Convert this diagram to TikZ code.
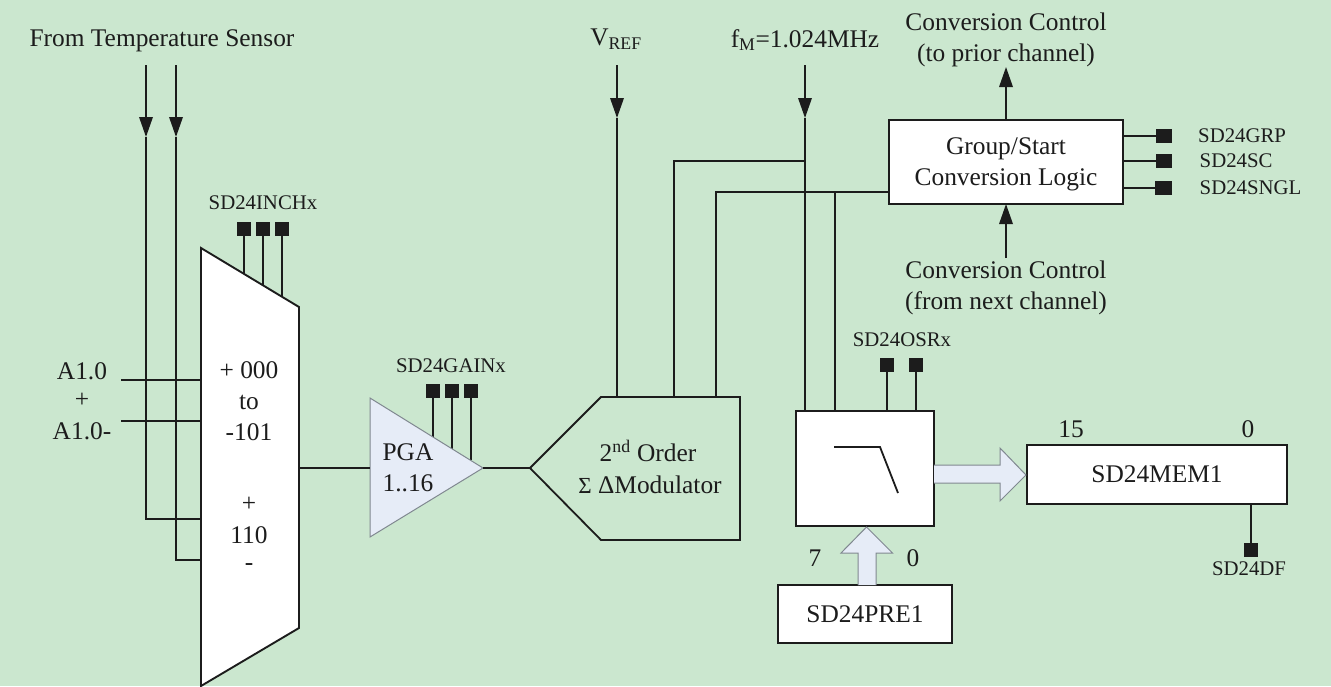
\documentclass[tikz,border=0pt]{standalone}
\usepackage{fontspec}
\setmainfont{Liberation Serif}
\usetikzlibrary{arrows.meta}
\definecolor{bg}{HTML}{CBE7CF}
\definecolor{ink}{HTML}{1C1C1C}
\definecolor{pale}{HTML}{E6ECF7}
\definecolor{edge}{HTML}{808890}
\tikzset{
  wire/.style={draw=ink,line width=1.8pt},
  arr/.style={wire,-{Triangle[length=20pt,width=13.5pt]}},
  pin/.style={draw=none,fill=ink,minimum width=14pt,minimum height=14pt,inner sep=0pt,outer sep=0pt},
  boxw/.style={draw=ink,line width=1.9pt,fill=white,inner sep=0pt,outer sep=0pt},
  big/.style={font=\fontsize{25.4}{30}\selectfont,align=center,inner sep=0pt,text=ink},
  small/.style={font=\fontsize{20.8}{25}\selectfont,inner sep=0pt,text=ink},
  wide/.style={draw=edge,line width=1pt,fill=pale}
}
\begin{document}
\begin{tikzpicture}[x=1pt,y=-1pt]
\useasboundingbox (0,0) rectangle (1331,686);
\fill[bg] (0,0) rectangle (1331,686);
% multiplexer
\coordinate (m1) at (201,248);
\coordinate (m2) at (299,307);
\coordinate (m3) at (299,628);
\coordinate (m4) at (201,686);
% PGA
\coordinate (p1) at (370,398);
\coordinate (p2) at (483,468);
\coordinate (p3) at (370,537);
% modulator
\coordinate (d1) at (530,468);
\coordinate (d2) at (601,397);
\coordinate (d3) at (740,397);
\coordinate (d4) at (740,540);
\coordinate (d5) at (601,540);
% boxes
\node[boxw,minimum width=234pt,minimum height=84pt] (grp) at (1006,162) {};
\node[boxw,minimum width=138pt,minimum height=115pt] (flt) at (865,468.5) {};
\node[boxw,minimum width=260pt,minimum height=59pt] (mem) at (1157,474.5) {};
\node[boxw,minimum width=174pt,minimum height=58pt] (pre) at (865,614) {};
% junction coordinates
\coordinate (t1a) at (146,65); \coordinate (t1b) at (146,137); \coordinate (t1c) at (146,519); \coordinate (t1d) at (201,519);
\coordinate (t2a) at (176,65); \coordinate (t2b) at (176,137); \coordinate (t2c) at (176,560); \coordinate (t2d) at (201,560);
\coordinate (a1) at (121,380); \coordinate (a1e) at (201,380);
\coordinate (a2) at (121,421); \coordinate (a2e) at (201,421);
\coordinate (va) at (617,65); \coordinate (vb) at (617,118); \coordinate (vc) at (617,397);
\coordinate (fa) at (805,65); \coordinate (fb) at (805,118); \coordinate (fc) at (805,161);
\coordinate (fd) at (805,411);
\coordinate (h1) at (674,161); \coordinate (h1b) at (674,397);
\coordinate (h2) at (716,192); \coordinate (h2b) at (716,397);
\coordinate (h2e) at (889,192);
\coordinate (h3) at (835,192); \coordinate (h3b) at (835,411);
\coordinate (ctop) at (1006,67);
\coordinate (cbot) at (1006,258);
\coordinate (l1) at (834,447); \coordinate (l2) at (880,447); \coordinate (l3) at (898,493);
% wide arrows
\draw[wide] (934,465) -- (1000,465) -- (1000,448) -- (1026,475) -- (1000,501) -- (1000,483) -- (934,483);
\draw[wide] (858,585) -- (858,553) -- (841,553) -- (866.5,527) -- (892.5,553) -- (876,553) -- (876,585);
% pins
\node[pin] (i1) at (244,228.5) {}; \node[pin] (i2) at (263,228.5) {}; \node[pin] (i3) at (282,228.5) {};
\node[pin] (g1) at (433,391) {}; \node[pin] (g2) at (452,391) {}; \node[pin] (g3) at (471,391) {};
\node[pin] (o1) at (887,365) {}; \node[pin] (o2) at (916,365) {};
\node[pin] (df) at (1251,550) {};
\node[pin,minimum width=16pt] (s1) at (1164,136) {};
\node[pin,minimum width=16pt] (s2) at (1164,161) {};
\node[pin,minimum width=17pt] (s3) at (1163.5,188) {};
% wires behind the mux
\draw[wire] (a1) -- (a1e);
\draw[wire] (a2) -- (a2e);
\draw[arr] (t1a) -- (t1b);
\draw[wire] (t1b) -- (t1c) -- (t1d);
\draw[arr] (t2a) -- (t2b);
\draw[wire] (t2b) -- (t2c) -- (t2d);
\draw[wire] (i1) -- (244,275.5);
\draw[wire] (i2) -- (263,287);
\draw[wire] (i3) -- (282,298);
\draw[wire] (g1) -- (433,437);
\draw[wire] (g2) -- (452,448.5);
\draw[wire] (g3) -- (471,460);
% shapes
\draw[boxw] (m1) -- (m2) -- (m3) -- (m4) -- cycle;
\draw[draw=edge,line width=1pt,fill=pale] (p1) -- (p2) -- (p3) -- cycle;
\draw[wire] (d1) -- (d2) -- (d3) -- (d4) -- (d5) -- cycle;
\draw[wire] (m2 |- p2) -- (p1 |- p2);
\draw[wire] (p2) -- (d1);
% converter wires
\draw[arr] (va) -- (vb);
\draw[wire] (vb) -- (vc);
\draw[arr] (fa) -- (fb);
\draw[wire] (fb) -- (fd);
\draw[wire] (fc) -- (h1) -- (h1b);
\draw[wire] (h2e) -- (h2) -- (h2b);
\draw[wire] (h3) -- (h3b);
\draw[wire] (o1) -- (o1 |- flt.north);
\draw[wire] (o2) -- (o2 |- flt.north);
\draw[wire] (df) -- (df |- mem.south);
\draw[arr] (grp.north) -- (ctop);
\draw[arr] (cbot) -- (grp.south);
\draw[wire] (s1) -- (s1 -| grp.east);
\draw[wire] (s2) -- (s2 -| grp.east);
\draw[wire] (s3) -- (s3 -| grp.east);
\draw[wire] (l1) -- (l2) -- (l3);
% labels
\node[big] (tsen) at (162,40.5) {From Temperature Sensor};
\node[big] (vref) at (616,39) {V\textsubscript{REF}};
\node[big] (fm) at (805,40) {f\textsubscript{M}=1.024MHz};
\node[big] (cc1) at (1006,40) {Conversion Control\\[1pt](to prior channel)};
\node[big] (cc2) at (1006,288) {Conversion Control\\[1pt](from next channel)};
\node[big] at (1006,164.5) {Group/Start\\[1pt]Conversion Logic};
\node[small] (lg) [anchor=west] at (1198,135.5) {SD24GRP};
\node[small] (ls) [anchor=west] at (1199.5,161) {SD24SC};
\node[small] (ln) [anchor=west] at (1199.5,188) {SD24SNGL};
\node[small] (li) at (263,203) {SD24INCHx};
\node[small] (lp) at (451,366) {SD24GAINx};
\node[small] (lo) at (902,340) {SD24OSRx};
\node[small] (ld) at (1249,569) {SD24DF};
\node[big] (a10) at (82,371) {A1.0};
\node[big] (apl) at (82,400) {+};
\node[big] (a11) at (82,431) {A1.0-};
\node[big] (x1) at (249,370) {+ 000};
\node[big] (x2) at (249,402) {to};
\node[big] (x3) at (249,432) {-101};
\node[big] (x4) at (249,504) {+};
\node[big] (x5) at (249,535) {110};
\node[big] (x6) at (249,567) {-};
\node[big] (pg1) at (408,452) {PGA};
\node[big] (pg2) at (408,483) {1..16};
\node[big] (mo1) at (648,451) {2\textsuperscript{nd} Order};
\node[big] (mo2) at (650,485) {{\fontsize{23}{24}\selectfont Σ} ΔModulator};
\node[big] at (mem.center) {SD24MEM1};
\node[big] at (pre.center) {SD24PRE1};
\node[big] (n15) at (1071,429) {15};
\node[big] (n0) at (1248,429) {0};
\node[big] (n7) at (815,558) {7};
\node[big] (n00) at (913,558) {0};
\end{tikzpicture}
\end{document}
